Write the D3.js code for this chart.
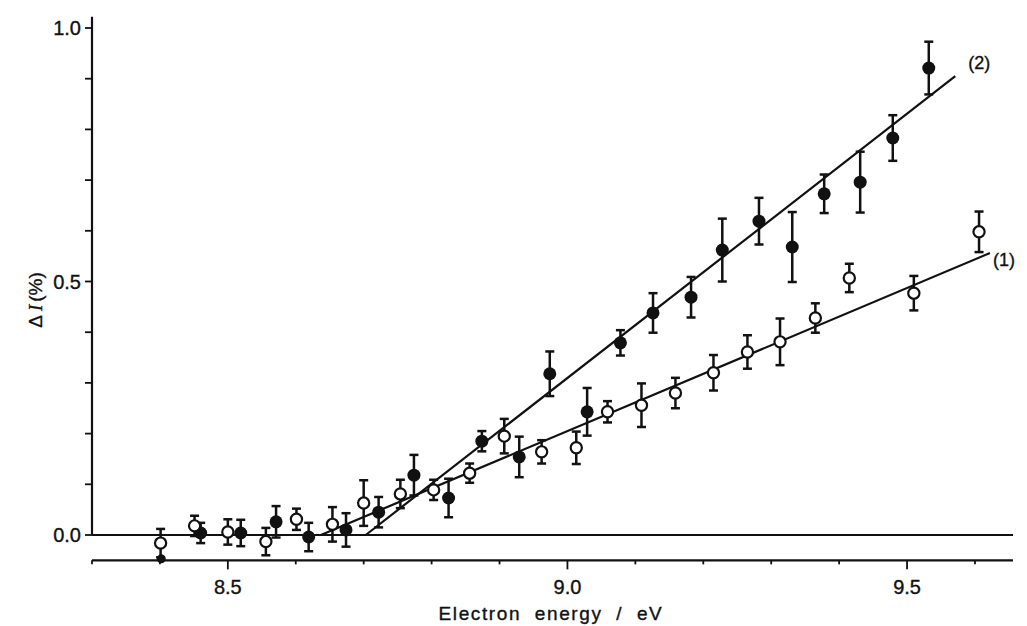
<!DOCTYPE html>
<html><head><meta charset="utf-8">
<script src="https://cdn.jsdelivr.net/npm/d3@7"></script>
<style>
body{margin:0;background:#fff;}
text{font-family:"Liberation Sans",Arial,sans-serif;fill:#111;stroke:#111;stroke-width:0.35px;}
</style></head>
<body><svg id="c" width="1027" height="626"></svg>
<script>
// Series (1): open circles
const openX   = [8.401,8.451,8.500,8.556,8.601,8.654,8.700,8.754,8.803,8.856,8.907,8.962,9.013,9.059,9.109,9.159,9.215,9.265,9.313,9.365,9.415,9.510,9.606];
const openY   = [-0.016,0.018,0.006,-0.013,0.031,0.021,0.063,0.081,0.089,0.122,0.195,0.164,0.172,0.243,0.256,0.280,0.320,0.361,0.381,0.428,0.507,0.477,0.598];
const openErr = [0.028,0.020,0.025,0.027,0.021,0.034,0.045,0.028,0.020,0.019,0.034,0.023,0.032,0.021,0.043,0.030,0.035,0.033,0.046,0.029,0.028,0.034,0.040];
// Series (2): filled circles
const fillX   = [8.402,8.460,8.519,8.571,8.619,8.674,8.722,8.774,8.825,8.874,8.929,8.974,9.029,9.078,9.126,9.182,9.228,9.282,9.331,9.378,9.431,9.479,9.532];
const fillY   = [-0.047,0.004,0.004,0.026,-0.004,0.010,0.045,0.118,0.073,0.185,0.154,0.318,0.243,0.379,0.438,0.469,0.562,0.619,0.568,0.673,0.696,0.783,0.921];
const fillErr = [0,0.020,0.026,0.031,0.028,0.033,0.030,0.040,0.038,0.020,0.040,0.044,0.047,0.025,0.039,0.040,0.062,0.046,0.069,0.038,0.060,0.045,0.052];
// Fitted lines (start on baseline, end)
const line1X = [8.637, 9.622], line1Y = [0, 0.556];
const line2X = [8.703, 9.571], line2Y = [0, 0.905];
const xTicksMajor = [8.5, 9.0, 9.5];
const xTicksMinor = [8.3,8.4,8.6,8.7,8.8,8.9,9.1,9.2,9.3,9.4,9.6];
const yTicks = [0,0.1,0.2,0.3,0.4,0.5,0.6,0.7,0.8,0.9,1.0];
const yTickLabels = ["0.0","0.5","1.0"];

const svg = d3.select("#c");
const x = d3.scaleLinear().domain([8.3, 9.656]).range([92, 1013]);
const y = d3.scaleLinear().domain([0, 1]).range([535, 28]);
const sw = 2.2;

// y axis line
svg.append("line").attr("x1",x(8.3)).attr("x2",x(8.3)).attr("y1",y(1.022)).attr("y2",y(0))
  .attr("stroke","#111").attr("stroke-width",sw);
// zero line
svg.append("line").attr("x1",x(8.3)).attr("x2",x(9.656)).attr("y1",y(0)).attr("y2",y(0))
  .attr("stroke","#111").attr("stroke-width",sw);
// y ticks
svg.selectAll(".yt").data(yTicks).join("line")
  .attr("x1",x(8.3)-7).attr("x2",x(8.3)).attr("y1",d=>y(d)).attr("y2",d=>y(d))
  .attr("stroke","#111").attr("stroke-width",1.8);
svg.selectAll(".yl").data(yTickLabels).join("text")
  .attr("x",x(8.3)-11).attr("y",d=>y(+d)+7).attr("text-anchor","end")
  .attr("font-size",20).text(d=>d);

// bottom axis
const yb = y(-0.05);
svg.append("line").attr("x1",x(8.3)).attr("x2",x(9.656)).attr("y1",yb).attr("y2",yb)
  .attr("stroke","#111").attr("stroke-width",sw);
svg.selectAll(".xm").data(xTicksMajor).join("line")
  .attr("x1",d=>x(d)).attr("x2",d=>x(d)).attr("y1",yb).attr("y2",yb+9)
  .attr("stroke","#111").attr("stroke-width",1.8);
svg.selectAll(".xn").data(xTicksMinor).join("line")
  .attr("x1",d=>x(d)).attr("x2",d=>x(d)).attr("y1",yb).attr("y2",yb+4)
  .attr("stroke","#111").attr("stroke-width",1.8);
svg.selectAll(".xl").data(xTicksMajor).join("text")
  .attr("x",d=>x(d)).attr("y",yb+34).attr("text-anchor","middle")
  .attr("font-size",20).text(d=>d.toFixed(1));

// axis titles
svg.append("text").attr("x",551).attr("y",620).attr("text-anchor","middle")
  .attr("font-size",19).attr("letter-spacing",1.6).attr("xml:space","preserve")
  .text("Electron  energy  /  eV");
const yt = svg.append("text").attr("transform","translate(42,300) rotate(-90)")
  .attr("text-anchor","middle").attr("font-size",19);
yt.append("tspan").text("Δ");
yt.append("tspan").attr("font-family","Liberation Serif, serif").attr("font-style","italic").attr("dx",4).text("I");
yt.append("tspan").attr("dx",3).text("(%)");

// fitted lines
const lg = d3.line().x(d=>x(d[0])).y(d=>y(d[1]));
svg.append("path").attr("d",lg(line1X.map((v,i)=>[v,line1Y[i]]))).attr("fill","none").attr("stroke","#111").attr("stroke-width",sw);
svg.append("path").attr("d",lg(line2X.map((v,i)=>[v,line2Y[i]]))).attr("fill","none").attr("stroke","#111").attr("stroke-width",sw);
svg.append("text").attr("x",x(9.622)+3).attr("y",y(0.556)+13).attr("font-size",18).text("(1)");
svg.append("text").attr("x",x(9.571)+13).attr("y",y(0.905)-7).attr("font-size",18).text("(2)");

function errBars(xs, ys, es){
  const g = svg.append("g").attr("stroke","#111").attr("stroke-width",2.5);
  xs.forEach((xv,i)=>{
    if(es[i] <= 0) return;
    const cx = x(xv), t = y(ys[i]+es[i]), b = y(ys[i]-es[i]);
    g.append("line").attr("x1",cx).attr("x2",cx).attr("y1",t).attr("y2",b);
    g.append("line").attr("x1",cx-4.5).attr("x2",cx+4.5).attr("y1",t).attr("y2",t);
    g.append("line").attr("x1",cx-4.5).attr("x2",cx+4.5).attr("y1",b).attr("y2",b);
  });
}
errBars(fillX, fillY, fillErr);
errBars(openX, openY, openErr);
svg.selectAll(".fp").data(fillX).join("circle")
  .attr("cx",d=>x(d)).attr("cy",(d,i)=>y(fillY[i])).attr("r",(d,i)=>fillErr[i]>0?6.5:4.5).attr("fill","#111");
svg.selectAll(".op").data(openX).join("circle")
  .attr("cx",d=>x(d)).attr("cy",(d,i)=>y(openY[i])).attr("r",5.6)
  .attr("fill","#fff").attr("stroke","#111").attr("stroke-width",2.2);
</script></body></html>
